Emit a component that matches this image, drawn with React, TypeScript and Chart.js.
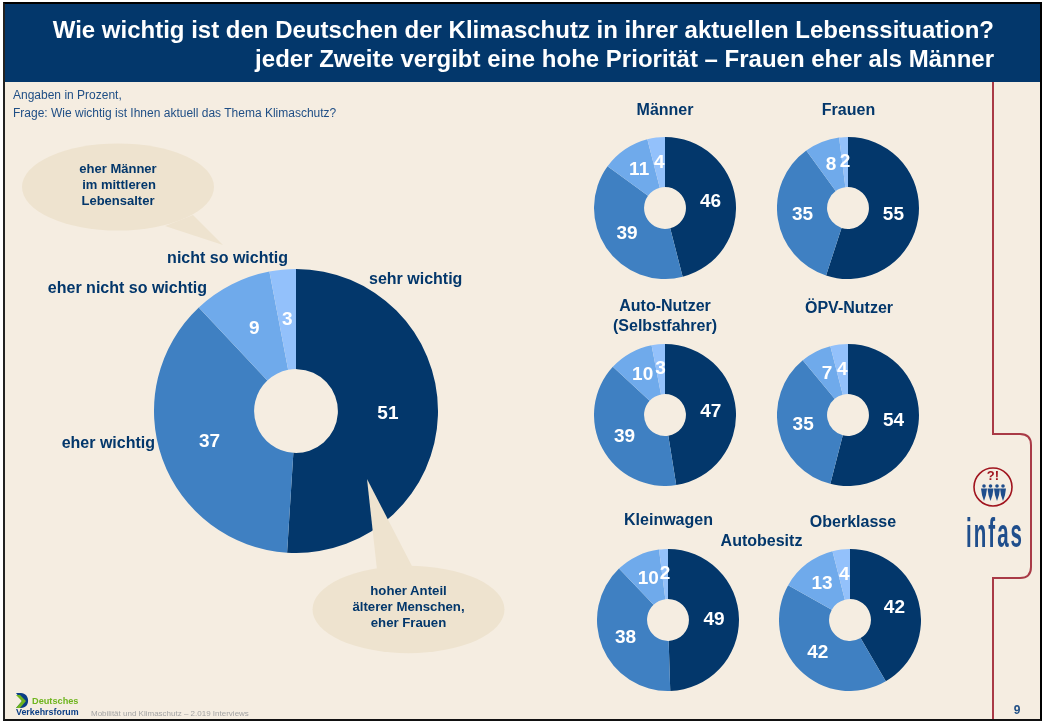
import React, { useEffect, useRef } from "react";
import { Chart, registerables } from "chart.js";

Chart.register(...registerables);

const categories = ["sehr wichtig", "eher wichtig", "eher nicht so wichtig", "nicht so wichtig"];
const gesamt = [51, 37, 9, 3];
const maenner = [46, 39, 11, 4];
const frauen = [55, 35, 8, 2];
const autoNutzer = [47, 39, 10, 3];
const oepvNutzer = [54, 35, 7, 4];
const kleinwagen = [49, 38, 10, 2];
const oberklasse = [42, 42, 13, 4];

const NAVY = "#03376B";
const sliceColors = ["#03376B", "#3F80C2", "#6FAAEB", "#93C1FB"];
const FONT = '"Liberation Sans", Arial, sans-serif';
const titleLines = [
  "Wie wichtig ist den Deutschen der Klimaschutz in ihrer aktuellen Lebenssituation?",
  "jeder Zweite vergibt eine hohe Priorität – Frauen eher als Männer",
];

const valueLabels = {
  id: "valueLabels",
  afterDatasetsDraw(chart: any) {
    const { ctx } = chart;
    const meta = chart.getDatasetMeta(0);
    const values = chart.data.datasets[0].data;
    ctx.save();
    ctx.fillStyle = "#FFFFFF";
    ctx.font = `bold 19px ${FONT}`;
    ctx.textAlign = "center";
    ctx.textBaseline = "middle";
    meta.data.forEach((arc: any, i: number) => {
      const p = arc.getCenterPoint();
      ctx.fillText(String(values[i]), p.x, p.y);
    });
    ctx.restore();
  },
};

function Donut({ values, cx, cy, r, title }: { values: number[]; cx: number; cy: number; r: number; title: string }) {
  const ref = useRef<HTMLCanvasElement>(null);
  useEffect(() => {
    const chart = new Chart(ref.current as HTMLCanvasElement, {
      type: "doughnut",
      data: {
        labels: categories,
        datasets: [{ label: title, data: values, backgroundColor: sliceColors, borderWidth: 0 }],
      },
      options: {
        animation: false,
        responsive: false,
        cutout: "29.5%",
        layout: { padding: 0 },
        plugins: { legend: { display: false }, tooltip: { enabled: false } },
      },
      plugins: [valueLabels],
    } as any);
    return () => chart.destroy();
  }, []);
  return (
    <canvas
      ref={ref}
      width={r * 2}
      height={r * 2}
      style={{ position: "absolute", left: cx - r, top: cy - r, width: r * 2, height: r * 2 }}
    />
  );
}

function T({ x, y, s, size = 15, bold = true, anchor = "start", fill = NAVY }: any) {
  return (
    <text x={x} y={y} fontSize={size} fontWeight={bold ? 700 : 400} textAnchor={anchor} fill={fill} dominantBaseline="central">
      {s}
    </text>
  );
}

function Person({ x }: { x: number }) {
  return (
    <g fill="#1F4E8C">
      <circle cx={x} cy={486} r={1.8} />
      <path d={`M${x - 3} 488.5 H${x + 3} L${x + 2} 495 L${x} 501 L${x - 2} 495 Z`} />
    </g>
  );
}

export default function App() {
  return (
    <div
      style={{
        position: "absolute",
        left: 0,
        top: 0,
        width: 1044,
        height: 722,
        background: "#FFFFFF",
        overflow: "hidden",
        fontFamily: FONT,
      }}
    >
      <div
        style={{
          position: "absolute",
          left: 3,
          top: 2,
          width: 1035,
          height: 715,
          background: "#F5EDE1",
          borderLeft: "2px solid #222",
          borderRight: "2px solid #000",
          borderTop: "2px solid #000",
          borderBottom: "2px solid #111",
          boxSizing: "content-box",
        }}
      />
      <div style={{ position: "absolute", left: 5, top: 4, width: 1035, height: 78, background: NAVY }} />
      <Donut title="Gesamt" values={gesamt} cx={296} cy={411} r={142} />
      <Donut title="Männer" values={maenner} cx={665} cy={208} r={71} />
      <Donut title="Frauen" values={frauen} cx={848} cy={208} r={71} />
      <Donut title="Auto-Nutzer (Selbstfahrer)" values={autoNutzer} cx={665} cy={415} r={71} />
      <Donut title="ÖPV-Nutzer" values={oepvNutzer} cx={848} cy={415} r={71} />
      <Donut title="Kleinwagen" values={kleinwagen} cx={668} cy={620} r={71} />
      <Donut title="Oberklasse" values={oberklasse} cx={850} cy={620} r={71} />
      <svg
        width={1044}
        height={722}
        style={{ position: "absolute", left: 0, top: 0, pointerEvents: "none", fontFamily: FONT }}
      >
        <T x={994} y={29} s={titleLines[0]} size={24} anchor="end" fill="#FFFFFF" />
        <T x={994} y={58} s={titleLines[1]} size={24} anchor="end" fill="#FFFFFF" />

        <T x={13} y={95} s="Angaben in Prozent," size={12} bold={false} fill="#1F4E85" />
        <T x={13} y={113} s="Frage: Wie wichtig ist Ihnen aktuell das Thema Klimaschutz?" size={12} bold={false} fill="#1F4E85" />

        {/* speech bubbles */}
        <g fill="#EEE3CF">
          <ellipse cx={118} cy={187} rx={96} ry={43.5} />
          <path d="M165 226 L223 245 L193 215 Z" />
          <ellipse cx={408.5} cy={609.5} rx={96} ry={43.7} />
          <path d="M367 479 L377 570 L413 568 Z" />
        </g>
        <T x={118} y={168} s="eher Männer" size={13} anchor="middle" />
        <T x={119} y={184} s="im mittleren" size={13} anchor="middle" />
        <T x={118} y={200} s="Lebensalter" size={13} anchor="middle" />
        <T x={408.5} y={590.5} s="hoher Anteil" size={13.2} anchor="middle" />
        <T x={408.5} y={606.5} s="älterer Menschen," size={13.2} anchor="middle" />
        <T x={408.5} y={622.5} s="eher Frauen" size={13.2} anchor="middle" />

        {/* big chart category labels */}
        <T x={369} y={278.5} s={categories[0]} size={16} />
        <T x={155} y={442.5} s={categories[1]} size={16} anchor="end" />
        <T x={207} y={287.5} s={categories[2]} size={16} anchor="end" />
        <T x={288} y={257.5} s={categories[3]} size={16} anchor="end" />

        {/* small chart titles */}
        <T x={665} y={109.5} s="Männer" size={16} anchor="middle" />
        <T x={848.5} y={109.5} s="Frauen" size={16} anchor="middle" />
        <T x={665} y={305.5} s="Auto-Nutzer" size={16} anchor="middle" />
        <T x={665} y={325.5} s="(Selbstfahrer)" size={16} anchor="middle" />
        <T x={849} y={307.5} s="ÖPV-Nutzer" size={16} anchor="middle" />
        <T x={668.5} y={519.5} s="Kleinwagen" size={16} anchor="middle" />
        <T x={853} y={521.5} s="Oberklasse" size={16} anchor="middle" />
        <T x={761.5} y={540.5} s="Autobesitz" size={16} anchor="middle" />

        {/* side bracket */}
        <path
          d="M993 82 V434 H1020 Q1031 434 1031 445 V567 Q1031 578 1020 578 H993 V719"
          fill="none"
          stroke="#A93A46"
          strokeWidth={2}
        />

        {/* infas logo */}
        <circle cx={993} cy={487} r={19} fill="none" stroke="#A0141E" strokeWidth={1.6} />
        <text x={993} y={475} fontSize={13} fontWeight={700} textAnchor="middle" fill="#A0141E" dominantBaseline="central">
          ?!
        </text>
        <Person x={984} />
        <Person x={990.5} />
        <Person x={997} />
        <Person x={1003} />
        <text
          x={0}
          y={0}
          fontSize={41}
          fontWeight={700}
          fill="#1F4E8C"
          transform="translate(966 547) scale(0.5 1)"
          textLength={112}
          lengthAdjust="spacing"
          style={{ fontFamily: '"Liberation Sans Narrow", "Liberation Sans", sans-serif' }}
        >
          infas
        </text>

        {/* Deutsches Verkehrsforum logo */}
        <path d="M16 693 H21 C30 693 31 708 21 708 H16 L22 701 Z" fill="#0B3E86" />
        <path d="M16 695 L22 701 L16 708 H20 L26 701 L20 695 Z" fill="#6FB51E" />
        <T x={32} y={701} s="Deutsches" size={9.2} fill="#6FB51E" />
        <T x={16} y={712} s="Verkehrsforum" size={8.9} fill="#0B3E86" />
        <T x={91} y={713} s="Mobilität und Klimaschutz – 2.019 Interviews" size={8} bold={false} fill="#A3A3A3" />
        <T x={1017} y={710} s="9" size={12} anchor="middle" fill="#1F4E85" />
      </svg>
    </div>
  );
}
